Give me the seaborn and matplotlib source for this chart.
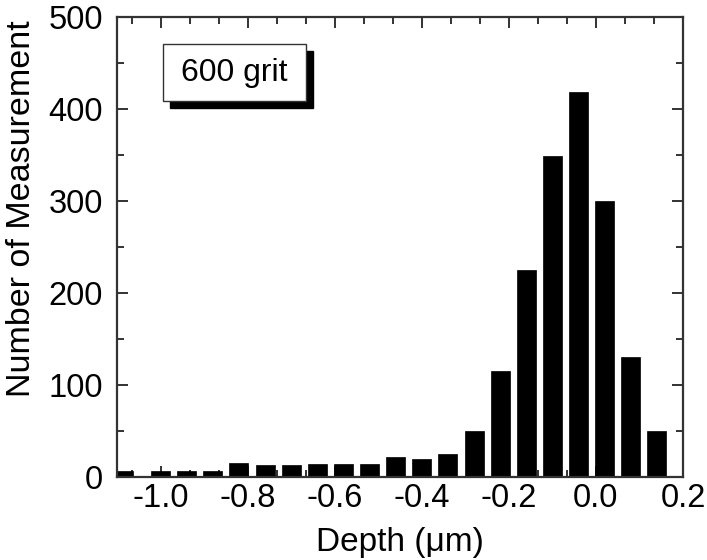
import matplotlib
matplotlib.use("Agg")
import matplotlib.pyplot as plt
from matplotlib.ticker import MultipleLocator, FormatStrFormatter
from matplotlib.patches import Rectangle
import seaborn as sns
import pandas as pd

# Data
depth = [-1.085, -1.00, -0.94, -0.88, -0.82, -0.76, -0.70, -0.64, -0.58, -0.52,
         -0.46, -0.40, -0.34, -0.28, -0.22, -0.16, -0.10, -0.04, 0.02, 0.08, 0.14]
counts = [7, 7, 7, 7, 15, 13, 13, 14, 14, 14,
          22, 20, 25, 50, 115, 225, 349, 419, 300, 130, 50]
x_ticks = [-1.0, -0.8, -0.6, -0.4, -0.2, 0.0, 0.2]
y_ticks = [0, 100, 200, 300, 400, 500]
label_text = "600 grit"

sns.set_theme(style="white")
plt.rcParams['font.family'] = ['Liberation Sans', 'DejaVu Sans']
plt.rcParams['axes.unicode_minus'] = False

df = pd.DataFrame({"depth": depth, "count": counts})

fig = plt.figure(figsize=(7.07, 5.6), dpi=100)
ax = fig.add_axes([117/707, 1-477/560, 566/707, 460/560])

sns.barplot(data=df, x="depth", y="count", native_scale=True, width=0.727,
            color="black", saturation=1, errorbar=None, ax=ax,
            edgecolor="black", linewidth=0.5)

ax.set_xlim(-1.1, 0.2)
ax.set_ylim(0, 500)
ax.set_xticks(x_ticks)
ax.set_yticks(y_ticks)
ax.xaxis.set_major_formatter(FormatStrFormatter('%.1f'))
ax.xaxis.set_minor_locator(MultipleLocator(0.2/3))
ax.yaxis.set_minor_locator(MultipleLocator(50))

for s in ax.spines.values():
    s.set_visible(True)
    s.set_color("#333333")
    s.set_linewidth(1.6)
    s.set_zorder(5)

ax.tick_params(which="both", direction="in", top=True, right=True,
               bottom=True, left=True, color="#333333", width=1.4,
               labelsize=23.5, labelcolor="black")
ax.tick_params(axis="y", which="major", length=8, pad=10)
ax.tick_params(axis="x", which="major", length=8, pad=4)
ax.tick_params(which="minor", length=5)

ax.set_xlabel("Depth (\u03bcm)", fontsize=24, color="black")
ax.set_ylabel("Number of Measurement", fontsize=24.5, color="black")
ax.xaxis.set_label_coords(0.5, -0.108)
ax.yaxis.set_label_coords(-0.142, 0.584)

# Text box with drop shadow
bx0, bx1 = (163-117)/566, (306-117)/566
by0, by1 = 1-(101-17)/460, 1-(44-17)/460
dx, dy = 7/566, -7/460
ax.add_patch(Rectangle((bx0+dx, by0+dy), bx1-bx0, by1-by0, transform=ax.transAxes,
                       facecolor="black", edgecolor="black", zorder=6))
ax.add_patch(Rectangle((bx0, by0), bx1-bx0, by1-by0, transform=ax.transAxes,
                       facecolor="white", edgecolor="#333333", linewidth=1.0, zorder=7))
ax.text((bx0+bx1)/2, (by0+by1)/2, label_text, transform=ax.transAxes,
        ha="center", va="center", fontsize=23, color="black", zorder=8)

fig.savefig("out.png", dpi=100)
